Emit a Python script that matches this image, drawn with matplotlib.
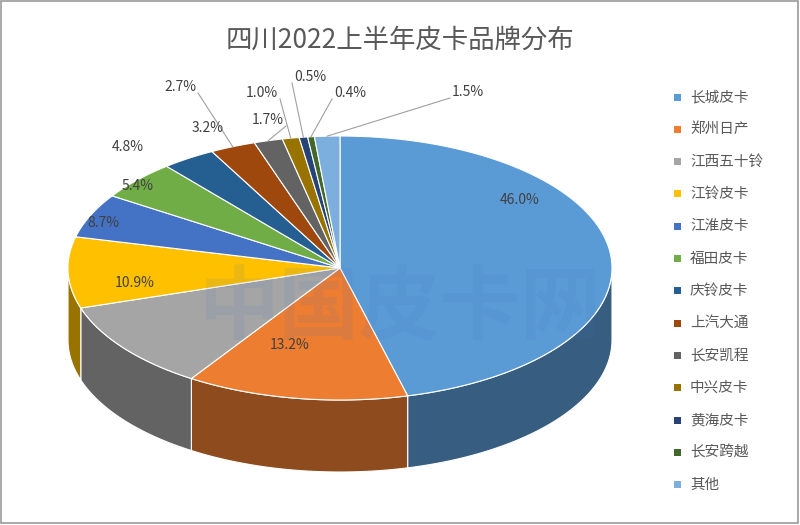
import numpy as np
import matplotlib
matplotlib.use("Agg")
import matplotlib.pyplot as plt
from matplotlib import font_manager
from matplotlib.patches import Polygon, Rectangle
from matplotlib.colors import to_rgb

# pick an installed CJK sans font
names = sorted({f.name for f in font_manager.fontManager.ttflist if "CJK" in f.name})
sans = [n for n in names if "Sans" in n]
cjk_name = next((n for n in sans if "SC" in n), sans[0] if sans else (names[0] if names else "DejaVu Sans"))
plt.rcParams["font.family"] = [cjk_name, "DejaVu Sans"]

brands = ["长城皮卡", "郑州日产", "江西五十铃", "江铃皮卡", "江淮皮卡", "福田皮卡", "庆铃皮卡",
          "上汽大通", "长安凯程", "中兴皮卡", "黄海皮卡", "长安跨越", "其他"]
shares = [46.0, 13.2, 10.9, 8.7, 5.4, 4.8, 3.2, 2.7, 1.7, 1.0, 0.5, 0.4, 1.5]
colors = ["#5B9BD5", "#ED7D31", "#A5A5A5", "#FFC000", "#4472C4", "#70AD47", "#255E91",
          "#9E480E", "#636363", "#997300", "#264478", "#43682B", "#7CAFDD"]
# label text positions (pixel coords) and whether a leader line is drawn
label_pos = [(520, 200), (290, 345), (135, 283), (103, 223), (138, 186), (128, 147), (208, 128),
             (180, 87), (268, 120), (262, 93), (310, 77), (350, 93), (468, 92)]
leader = [False, False, False, False, False, False, False, True, True, True, True, True, True]

cx, cy, rx, ry, depth = 340, 268, 272, 132, 72


def pt(a, dy=0):
    return cx + rx * np.sin(a), cy - ry * np.cos(a) + dy


fig = plt.figure(figsize=(8, 5.25), dpi=100)
ax = fig.add_axes([0, 0, 1, 1])
ax.set_xlim(0, 800)
ax.set_ylim(525, 0)
ax.axis("off")
ax.add_patch(Rectangle((1, 1), 797, 522, fill=False, ec="#9a9a9a", lw=1.2))

total = sum(shares)
bounds = np.concatenate([[0], np.cumsum(shares)]) / total * 2 * np.pi

# side walls (front half only)
for i, c in enumerate(colors):
    a0, a1 = max(bounds[i], np.pi / 2), min(bounds[i + 1], 3 * np.pi / 2)
    if a1 <= a0:
        continue
    t = np.linspace(a0, a1, 60)
    top = [pt(a) for a in t]
    bot = [pt(a, depth) for a in t[::-1]]
    dark = tuple(np.array(to_rgb(c)) * 0.6)
    ax.add_patch(Polygon(top + bot, closed=True, fc=dark, ec="white", lw=0.8))

# top faces
for i, c in enumerate(colors):
    t = np.linspace(bounds[i], bounds[i + 1], 80)
    verts = [(cx, cy)] + [pt(a) for a in t]
    ax.add_patch(Polygon(verts, closed=True, fc=c, ec="white", lw=0.8))

ax.text(400, 310, "中国皮卡网", fontsize=58, color="#4472C4", alpha=0.10,
        ha="center", va="center", fontweight="bold", zorder=1)

for i, v in enumerate(shares):
    x, y = label_pos[i]
    ax.text(x, y, f"{v:.1f}%", fontsize=10, color="#404040", ha="center", va="center", zorder=3)
    if leader[i]:
        mid = (bounds[i] + bounds[i + 1]) / 2
        ex, ey = pt(mid)
        ax.plot([x + (18 if x < ex else -18), ex], [y + 6, ey], color="#a0a0a0", lw=0.8)

ax.text(400, 40, "四川2022上半年皮卡品牌分布", fontsize=19, color="#595959",
        ha="center", va="center")

for i, (b, c) in enumerate(zip(brands, colors)):
    y = 97 + i * 32.3
    ax.add_patch(Rectangle((674, y - 3.5), 7, 7, fc=c, ec="none"))
    ax.text(690, y, b, fontsize=10.5, color="#595959", va="center")

fig.savefig("out.png", dpi=100)
